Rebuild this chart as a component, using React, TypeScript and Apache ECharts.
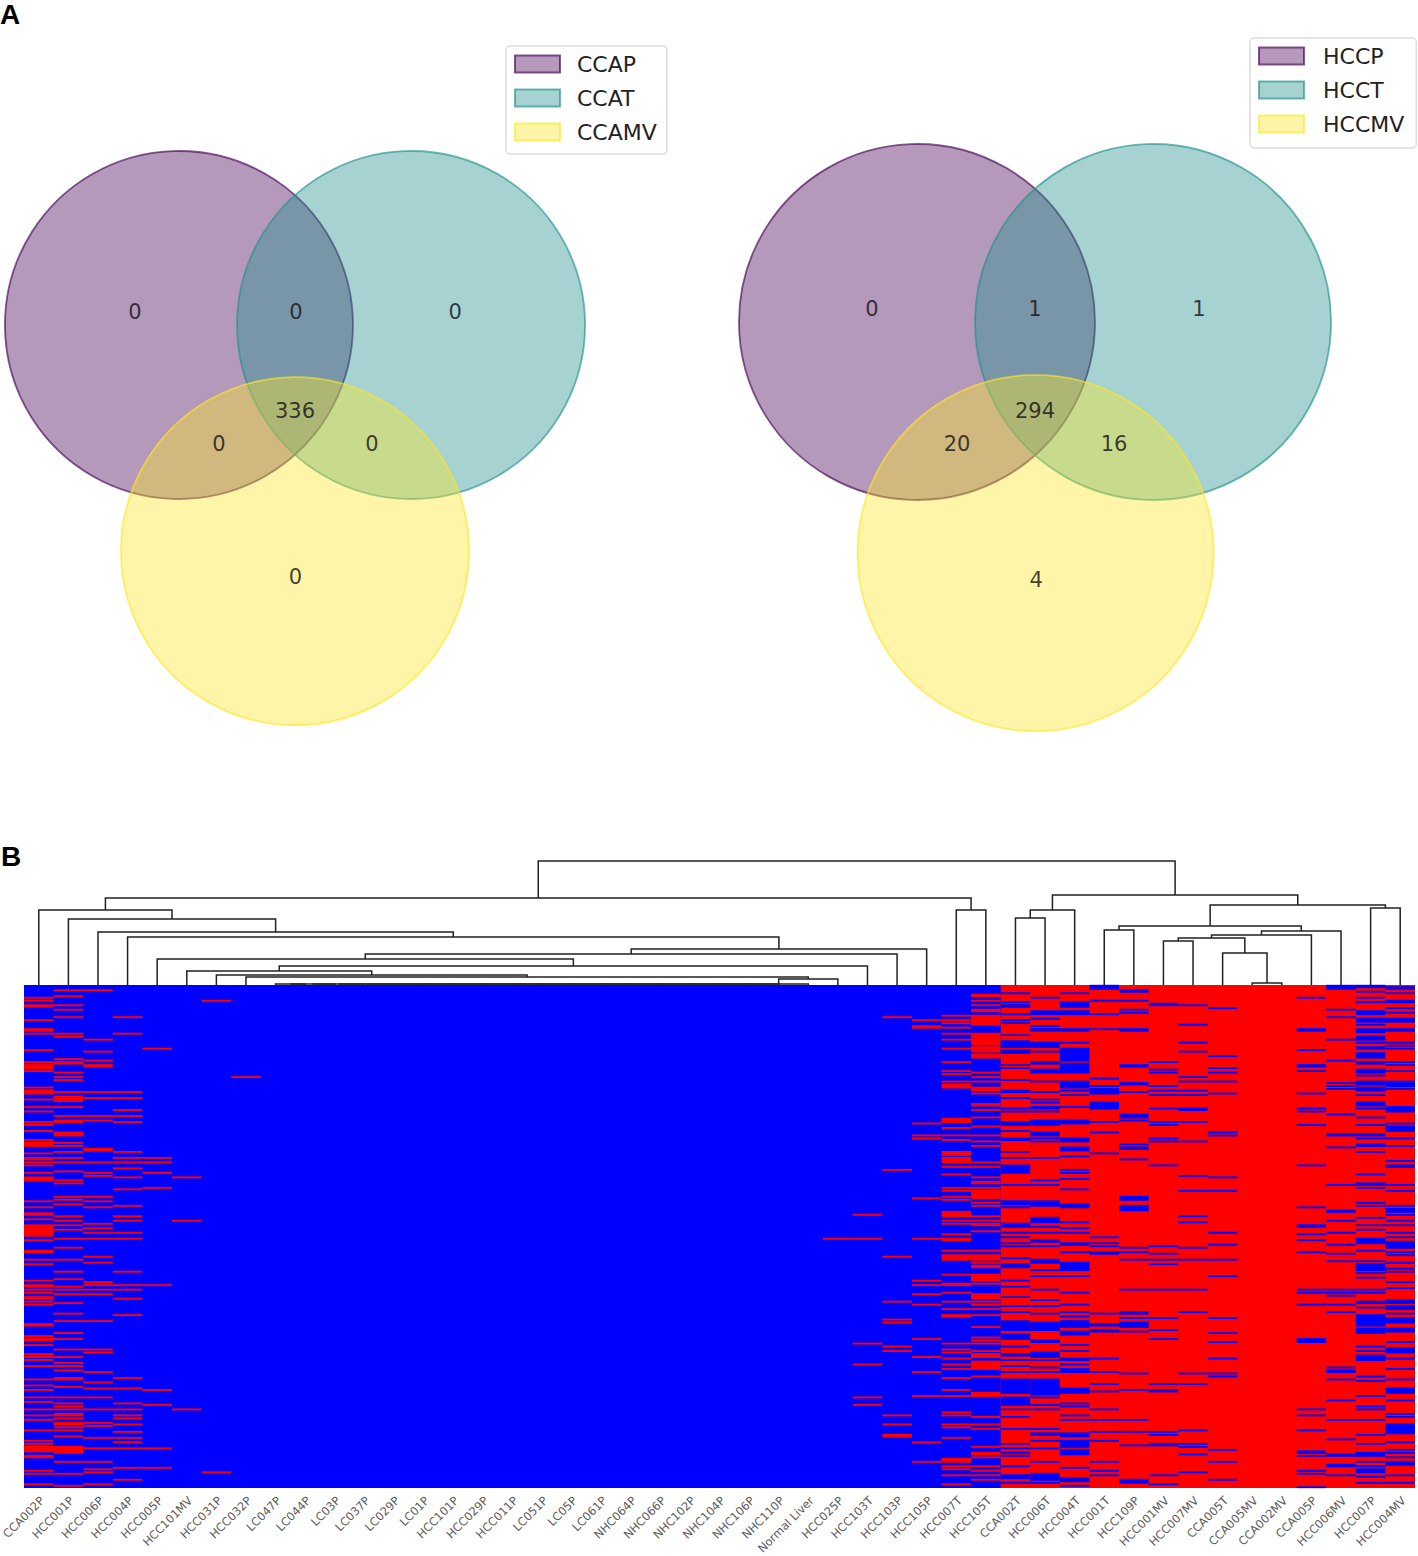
import React, { useEffect, useRef } from "react";
import * as echarts from "echarts";

// ---------- Venn data (units: one circle radius = 1) ----------
const vennUnitRadius = [1];
const leftVennNames = ["CCAP", "CCAT", "CCAMV"];
const rightVennNames = ["HCCP", "HCCT", "HCCMV"];
const leftVennCentres = [[-0.667, 0], [0.667, 0], [0, -1.3]];
const rightVennCentres = [[-0.663, 0], [0.663, 0], [0.003, -1.298]];
const leftVennCounts = [
  [-0.92, 0.075, "0"], [0.006, 0.075, "0"], [0.92, 0.075, "0"], [0, -0.494, "336"],
  [-0.437, -0.684, "0"], [0.442, -0.684, "0"], [0.003, -1.448, "0"],
];
const rightVennCounts = [
  [-0.916, 0.073, "0"], [0, 0.073, "1"], [0.921, 0.073, "1"], [0, -0.5, "294"],
  [-0.438, -0.685, "20"], [0.444, -0.685, "16"], [0.006, -1.449, "4"],
];
const vennFill = ["rgba(68,1,84,0.4)", "rgba(33,144,140,0.4)", "rgba(253,231,37,0.4)"];
const vennEdge = ["rgba(68,1,84,0.65)", "rgba(33,144,140,0.65)", "rgba(253,231,37,0.65)"];

// ---------- Heatmap data ----------
const sampleLabels = [
  "CCA002P", "HCC001P", "HCC006P", "HCC004P", "HCC005P", "HCC101MV", "HCC031P", "HCC032P", "LC047P", "LC044P",
  "LC03P", "LC037P", "LC029P", "LC01P", "HCC101P", "HCC029P", "HCC011P", "LC051P", "LC05P", "LC061P",
  "NHC064P", "NHC066P", "NHC102P", "NHC104P", "NHC106P", "NHC110P", "Normal Liver", "HCC025P", "HCC103T", "HCC103P",
  "HCC105P", "HCC007T", "HCC105T", "CCA002T", "HCC006T", "HCC004T", "HCC001T", "HCC109P", "HCC001MV", "HCC007MV",
  "CCA005T", "CCA005MV", "CCA002MV", "CCA005P", "HCC006MV", "HCC007P", "HCC004MV",
];
const rowCount = [336];
// first column whose background is red; earlier columns have a blue background
const firstRedColumn = [33];

type Run = number | [number, number];
// rows that differ from the column's background (rows 0..335)
const c00: Run[] = [8, 10, [13, 14], 23, [29, 30], 32, 43, 51, [53, 55], 57, 68, [70, 72], 76, 81, 84, 91, 93, 97, 103, [105, 107], 112, [115, 116], 118, 120, 125, [128, 130], 144, 148, 152, 153, 156, [160, 165], 166, 167, 170, [177, 178], 183, 186, 197, [200, 201], 203, 205, [208, 209], 211, 213, [226, 227], 234, [236, 237], 240, 246, 248, 250, 254, 263, 267, 270, 275, 278, 283, 287, 290, 297, 304, 306, [308, 311], [314, 315], 324, 326, 333];
const c01: Run[] = [3, 7, 13, 16, 21, 32, 34, 49, [51, 52], 58, 61, 63, 71, [74, 76], 77, 81, 87, [90, 91], [98, 100], 105, 107, 111, 115, 118, 124, 130, 132, 141, 143, 146, 154, 157, 160, 163, 169, 175, 183, 191, 196, 201, 203, 206, 212, 219, 224, 232, 236, 243, 248, 252, 254, 257, [262, 263], 268, 275, 279, 281, 283, [286, 287], 289, 292, 293, 295, 297, 301, [308, 312], 318, 326, 334];
const c02: Run[] = [3, 36, 44, 50, [53, 54], 71, 75, 87, 90, [109, 110], 118, 125, 127, 141, 144, 148, 159, 162, 165, 169, 181, 185, 198, 200, 203, 206, 224, 243, 245, 258, 265, 269, 275, 283, 292, 294, 302, 309, 318, 323, 325, 333];
const c03: Run[] = [21, 32, 71, 75, 83, 87, 91, 111, 115, 118, 122, 128, 136, 147, 154, 157, 165, 169, 191, 200, 203, 209, 220, 262, 269, 279, 283, 287, 289, 293, 298, 302, 305, 309, 322, 330];
const c04: Run[] = [42, 115, 118, 125, 135, 200, 270, 280, 309, 322];
const c05: Run[] = [128, 157, 283];
const c06: Run[] = [10, 325];
const c07: Run[] = [61];
const c27: Run[] = [169];
const c28: Run[] = [153, 169, 239, 253, 275, 280];
const c29: Run[] = [21, 123, 181, 211, 223, 225, 241, 244, 287, 293, [300, 301]];
const c30: Run[] = [23, [27, 28], 92, 100, 102, 142, 169, 197, 200, 206, 213, 236, 248, 258, 274, 305, 318];
const c31: Run[] = [20, 23, 25, 28, 32, 36, 42, 51, 57, 59, 64, [66, 68], [89, 91], 95, 100, 103, [111, 113], [115, 118], 121, 126, 135, 137, 141, 143, [151, 154], 157, 159, 166, [169, 170], 177, [180, 183], 193, [199, 200], 205, 211, 216, [220, 221], 239, 243, 245, 249, 253, 256, 262, 270, 274, 285, 287, 293, 295, 302, [316, 318], 321, 323, 327, 333];
const c32: Run[] = [[6, 7], 10, 13, [16, 17], [20, 26], [32, 39], [41, 44], [46, 48], 58, 61, 64, [68, 70], 72, [79, 80], 83, 88, 94, 100, 104, 107, 118, 121, 128, [131, 132], 135, [137, 142], 145, 147, 154, 157, [159, 160], 164, 177, [180, 183], 185, [187, 188], 193, [194, 197], 199, [206, 209], 211, 213, 216, 220, 228, 235, 237, 239, 244, [246, 248], [251, 256], 261, [272, 274], 288, 293, 296, 308, [312, 313], 315, 321, 324, 327, 330];
const c33: Run[] = [5, 11, [13, 14], 19, 23, 25, 33, [37, 41], [43, 45], 53, 55, 63, [70, 71], 75, 82, 84, [91, 93], 97, [102, 103], 111, 115, [120, 125], 133, [144, 146], 148, [159, 161], 165, 168, 172, 174, 182, [186, 188], 197, 201, 208, 214, 218, [224, 230], [233, 236], 241, [246, 247], 250, 254, 258, [263, 272], [275, 280], 283, 288, 296, 306, 309, 312, 314, 321, [327, 329], 332];
const c34: Run[] = [8, [17, 19], 22, 27, [29, 30], [38, 41], 44, [51, 52], [56, 58], 64, 71, 76, 78, [81, 82], 84, [90, 93], [98, 100], 102, 104, 115, 130, 133, [144, 146], 147, [155, 158], 161, 165, [170, 171], 174, [183, 185], 190, 194, 203, 210, 214, 219, [225, 230], [237, 238], [245, 248], 250, 255, 258, [263, 273], 275, 280, 283, 296, [299, 300], 304, 309, 318, [326, 329], 330, 332];
const c35: Run[] = [5, [11, 14], [17, 19], [29, 30], 38, 42, [43, 50], [52, 57], 58, [64, 68], 70, 73, 81, 90, [91, 92], [102, 104], [108, 110], 114, 123, 125, 129, 136, [146, 148], 158, 162, 165, [172, 173], 178, [185, 189], 190, 194, 205, 213, 218, 221, [224, 228], [231, 233], 240, 244, [249, 250], 253, [256, 258], [269, 272], 279, 281, 287, 290, [299, 301], [304, 308], [310, 313], 322, [329, 331], 334];
const c36: Run[] = [[0, 2], 10, 19, 29, 62, 67, [69, 72], [78, 82], 91, 98, 112, 168, 172, 174, [178, 179], 219, 226, 227, 230, 231, 249, 258, 266, 271, 283, 290, 298, 304, 318, 324, 327];
const c37: Run[] = [[3, 4], 10, 16, 18, [29, 30], [53, 54], [65, 66], 71, [86, 87], 88, 90, 106, [108, 109], 116, [141, 143], [147, 150], 175, 178, 183, 203, 218, 219, 222, [225, 228], 231, 259, 270, 290, 298, 307, [330, 332]];
const c38: Run[] = [[12, 13], 51, 56, 58, 67, 70, 73, 82, 91, 93, 102, 104, 120, 174, 179, 183, 186, 203, 222, 230, 236, 266, 270, 271, 298, 300, [306, 307], 327, 333];
const c39: Run[] = [13, 26, 38, 44, 61, 64, 70, 73, [82, 83], 91, 104, 127, 137, 154, 158, 175, 183, 203, 218, 259, 266, 297, 306, 308, 313, 325];
const c40: Run[] = [15, 47, 55, 58, 64, 72, 98, 100, 128, 137, 165, 173, 183, 194, 222, 232, 238, 249, 259, 261, 310, 318, 330];
const c43: Run[] = [8, [29, 30], 43, [53, 54], 57, 72, 82, 84, 93, 120, 148, [160, 161], 166, 170, 178, 203, 205, 213, [236, 238], 283, 287, 297, [311, 312], 314, 324, 326, 335];
const c44: Run[] = [[0, 2], 16, 21, 36, 50, 65, 67, 69, 86, [99, 100], 108, 133, [150, 151], 157, 165, 173, 179, 184, 203, 205, 207, 213, 218, 255, 257, 258, 263, 277, 290, 303, [313, 314], [320, 321], 327];
const c45: Run[] = [[0, 1], 4, 8, 11, [17, 19], [22, 24], 26, [29, 31], [34, 36], 38, [41, 42], [45, 48], [51, 52], [56, 58], 60, [64, 66], [68, 70], 73, [78, 80], 82, 88, 93, [99, 100], 102, 106, 107, 111, 126, [132, 133], 135, 145, 147, 155, 160, 163, [169, 172], 177, 184, [186, 190], 192, 195, 203, 205, [211, 212], 215, [220, 224], [225, 227], [229, 232], 241, 244, 247, [248, 250], 261, 264, 274, 281, 283, 290, 300, 306, [312, 314], 318, 321, [323, 325], 328, 332];
const c46: Run[] = [[1, 2], 5, 10, 11, 15, 18, [22, 24], [29, 30], 38, 40, 42, 51, 53, 57, [64, 67], 69, [81, 84], 92, [94, 97], 102, 107, 117, [120, 121], 133, 137, 147, [149, 151], 153, 157, 160, 165, 168, [171, 175], 178, 180, 185, 189, 191, 198, 202, [210, 212], [214, 216], 219, 222, [223, 225], [229, 231], 238, [242, 245], 249, 256, 263, [269, 272], 277, 286, 288, [293, 299], 305, 310, 312, 315, [318, 320], 327, 332];
const none: Run[] = [];
const columnStripes: Run[][] = [
  c00, c01, c02, c03, c04, c05, c06, c07, none, none,
  none, none, none, none, none, none, none, none, none, none,
  none, none, none, none, none, none, none, c27, c28, c29,
  c30, c31, c32, c33, c34, c35, c36, c37, c38, c39,
  c40, none, none, c43, c44, c45, c46,
];

// ---------- Dendrogram linkage: [child, child, height]; ids >= 47 refer to earlier merges ----------
const dendroMerges = [
  [8, 9, 1], [47, 10, 1], [48, 11, 1], [49, 12, 1], [50, 13, 1], [51, 14, 1], [52, 15, 1], [53, 16, 1],
  [54, 17, 1], [55, 18, 1], [56, 19, 1], [57, 20, 1], [58, 21, 1], [59, 22, 1], [60, 23, 1], [61, 24, 1],
  [62, 25, 1], [63, 26, 1],
  [64, 27, 6], [7, 65, 8], [6, 66, 10], [5, 67, 14], [68, 28, 19], [4, 69, 26], [70, 29, 31], [71, 30, 36],
  [3, 72, 48], [2, 73, 53], [1, 74, 66], [0, 75, 75], [31, 32, 75], [76, 77, 87],
  [33, 34, 67], [79, 35, 75], [41, 42, 2], [40, 81, 32], [38, 39, 44], [83, 82, 47], [84, 43, 50],
  [85, 44, 54], [36, 37, 55], [87, 86, 59], [45, 46, 77], [88, 89, 80], [80, 90, 90], [78, 91, 124],
];

function buildDendroLinks() {
  const pos = new Map<number, [number, number]>();
  sampleLabels.forEach((_, i) => pos.set(i, [i + 0.5, 0]));
  return dendroMerges.map(([a, b, h], i) => {
    const pa = pos.get(a)!;
    const pb = pos.get(b)!;
    pos.set(sampleLabels.length + i, [(pa[0] + pb[0]) / 2, h]);
    return [pa[0], pa[1], pb[0], pb[1], h];
  });
}

function buildStripes() {
  const out: number[][] = [];
  columnStripes.forEach((runs, col) => {
    const value = col < firstRedColumn[0] ? 1 : 0;
    runs.forEach((r) => {
      const [a, b] = Array.isArray(r) ? r : [r, r];
      out.push([col, a, b + 1, value]);
    });
  });
  return out;
}

const BLUE = "#0000ff";
const RED = "#ff0000";

function vennSeries(name: string, centre: number[], i: number, grid: number) {
  return {
    type: "custom",
    name,
    xAxisIndex: grid,
    yAxisIndex: grid,
    silent: true,
    clip: false,
    itemStyle: { color: vennFill[i], borderColor: vennEdge[i], borderWidth: 2 },
    encode: { x: 0, y: 1 },
    data: [[centre[0], centre[1], vennUnitRadius[0]]],
    renderItem: (_: any, api: any) => {
      const c = api.coord([api.value(0), api.value(1)]);
      const r = api.size([api.value(2), 0])[0];
      return {
        type: "circle",
        shape: { cx: c[0], cy: c[1], r },
        style: { fill: vennFill[i], stroke: vennEdge[i], lineWidth: 1.8 },
      };
    },
  };
}

function countSeries(rows: any[], grid: number) {
  return {
    type: "scatter",
    xAxisIndex: grid,
    yAxisIndex: grid,
    symbolSize: 0,
    silent: true,
    data: rows.map((r) => ({ value: [r[0], r[1]], name: r[2] })),
    label: {
      show: true,
      position: "inside",
      formatter: (p: any) => p.name,
      fontFamily: "DejaVu Sans",
      fontSize: 21,
      color: "#111",
    },
  };
}

function vennLegend(names: string[], left: number, top: number, textGap: number, padRight: number, padBottom: number) {
  return {
    show: true,
    left,
    top,
    orient: "vertical",
    selectedMode: false,
    padding: [6, padRight, padBottom, 8],
    itemWidth: 45,
    itemHeight: 17,
    itemGap: 10,
    backgroundColor: "#fff",
    borderColor: "#dcdcdc",
    borderWidth: 1.5,
    borderRadius: 4,
    textStyle: { fontFamily: "DejaVu Sans", fontSize: 22, color: "#222", padding: [0, 0, 0, textGap], lineHeight: 24 },
    data: names.map((name, i) => ({
      name,
      icon: "rect",
      itemStyle: { color: vennFill[i], borderColor: vennEdge[i], borderWidth: 2 },
    })),
  };
}

export default function App() {
  const ref = useRef<HTMLDivElement>(null);
  useEffect(() => {
    document.body.style.margin = "0";
    const chart = echarts.init(ref.current!, undefined, { renderer: "svg" });
    const rows = rowCount[0];
    const option: any = {
      animation: false,
      backgroundColor: "#fff",
      grid: [
        { left: 0, top: 130, width: 600, height: 620, outerBoundsMode: "none" },
        { left: 720, top: 130, width: 698, height: 620, outerBoundsMode: "none" },
        { left: 24, top: 855, width: 1391, height: 130, outerBoundsMode: "none" },
        { left: 24, top: 985, width: 1391, height: 503, outerBoundsMode: "none" },
      ],
      xAxis: [
        { type: "value", gridIndex: 0, show: false, min: -1.6954, max: 1.7529 },
        { type: "value", gridIndex: 1, show: false, min: -1.7697, max: 2.1517 },
        { type: "value", gridIndex: 2, show: false, min: 0, max: sampleLabels.length },
        {
          type: "category",
          gridIndex: 3,
          data: sampleLabels,
          axisLine: { show: true, lineStyle: { color: "#999", width: 1 } },
          axisTick: { show: true, alignWithLabel: true, length: 4, lineStyle: { color: "#888" } },
          axisLabel: {
            interval: 0,
            rotate: 45,
            margin: 7,
            align: "right",
            verticalAlign: "top",
            lineHeight: 10,
            fontFamily: "DejaVu Sans",
            fontSize: 11.5,
            color: "#5a5a5a",
          },
        },
      ],
      yAxis: [
        { type: "value", gridIndex: 0, show: false, min: -2.4425, max: 1.1207 },
        { type: "value", gridIndex: 1, show: false, min: -2.4045, max: 1.0787 },
        { type: "value", gridIndex: 2, show: false, min: 0, max: 130 },
        { type: "value", gridIndex: 3, show: false, inverse: true, min: 0, max: rows },
      ],
      legend: [
        vennLegend(leftVennNames, 506, 46, 12, 10, 10),
        vennLegend(rightVennNames, 1250, 38, 14, 12, 12),
      ],
      series: [
        ...leftVennNames.map((n, i) => vennSeries(n, leftVennCentres[i], i, 0)),
        countSeries(leftVennCounts, 0),
        ...rightVennNames.map((n, i) => vennSeries(n, rightVennCentres[i], i, 1)),
        countSeries(rightVennCounts, 1),
        {
          type: "custom",
          xAxisIndex: 2,
          yAxisIndex: 2,
          silent: true,
          clip: false,
          encode: { x: [0, 2], y: [1, 3, 4] },
          data: buildDendroLinks(),
          renderItem: (_: any, api: any) => {
            const top = api.value(4);
            const pts = [
              api.coord([api.value(0), api.value(1)]),
              api.coord([api.value(0), top]),
              api.coord([api.value(2), top]),
              api.coord([api.value(2), api.value(3)]),
            ];
            return {
              type: "polyline",
              shape: { points: pts },
              style: { fill: "none", stroke: "#222", lineWidth: 1.5 },
            };
          },
        },
        {
          type: "custom",
          xAxisIndex: 3,
          yAxisIndex: 3,
          silent: true,
          encode: { x: 0, y: 1 },
          data: [
            [0, firstRedColumn[0] - 1, 0],
            [firstRedColumn[0], sampleLabels.length - 1, 1],
          ],
          renderItem: (_: any, api: any) => {
            const w = api.size([1, 0])[0];
            const a = api.coord([api.value(0), 0]);
            const b = api.coord([api.value(1), rows]);
            const isRed = api.value(2) === 1;
            return {
              type: "rect",
              shape: { x: a[0] - w / 2, y: a[1], width: b[0] - a[0] + w + (isRed ? 0 : 1), height: b[1] - a[1] },
              style: { fill: isRed ? RED : BLUE },
            };
          },
        },
        {
          type: "custom",
          xAxisIndex: 3,
          yAxisIndex: 3,
          silent: true,
          encode: { x: 0, y: 1 },
          data: buildStripes(),
          renderItem: (_: any, api: any) => {
            const w = api.size([1, 0])[0];
            const a = api.coord([api.value(0), api.value(1)]);
            const b = api.coord([api.value(0), api.value(2)]);
            return {
              type: "rect",
              shape: { x: a[0] - w / 2, y: a[1] - 0.2, width: w, height: b[1] - a[1] + 0.4 },
              style: { fill: api.value(3) ? RED : BLUE },
            };
          },
        },
      ],
      graphic: [
        {
          type: "text",
          x: 0,
          y: 0,
          style: { text: "A", fontFamily: "Liberation Sans", fontWeight: "bold", fontSize: 28, fill: "#000" },
        },
        {
          type: "text",
          x: 1,
          y: 842,
          style: { text: "B", fontFamily: "Liberation Sans", fontWeight: "bold", fontSize: 28, fill: "#000" },
        },
      ],
    };
    chart.setOption(option);
    return () => chart.dispose();
  }, []);
  return (
    <div
      ref={ref}
      style={{ position: "absolute", left: 0, top: 0, width: 1418, height: 1556, background: "#fff" }}
    />
  );
}
